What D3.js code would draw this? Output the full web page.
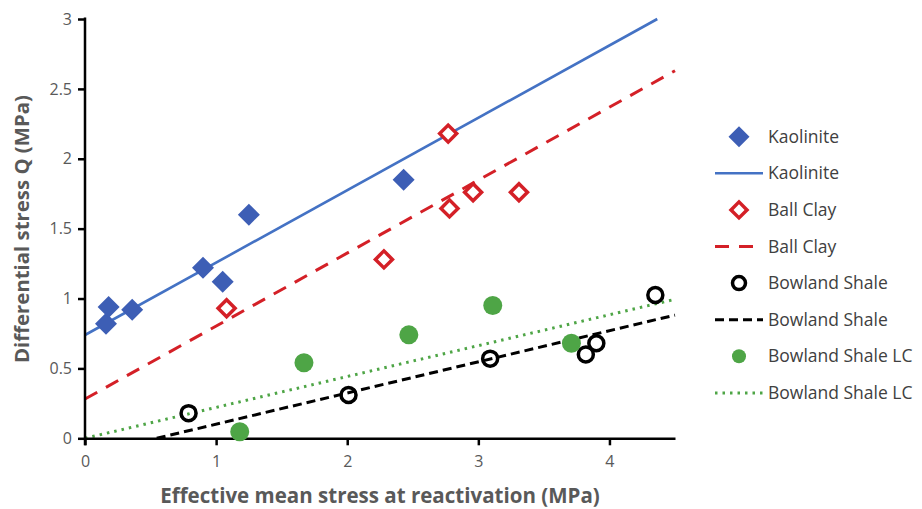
<!DOCTYPE html>
<html>
<head>
<meta charset="utf-8">
<script src="https://cdn.jsdelivr.net/npm/d3@7"></script>
<style>
  body { margin: 0; background: #fff; }
  text { font-family: "Open Sans", sans-serif; }
</style>
</head>
<body>
<div id="chart"></div>
<script>
var w = 922;
var h = 509;

// measured points (MPa)
var kaoliniteX = [0.16, 0.18, 0.36, 0.90, 1.05, 1.25, 2.43];
var kaoliniteY = [0.82, 0.94, 0.92, 1.22, 1.12, 1.60, 1.85];
var ballClayX = [1.08, 2.28, 2.77, 2.78, 2.96, 3.31];
var ballClayY = [0.93, 1.28, 2.18, 1.645, 1.76, 1.76];
var bowlandX = [0.79, 2.01, 3.09, 3.82, 3.90, 4.35];
var bowlandY = [0.18, 0.31, 0.57, 0.60, 0.68, 1.025];
var bowlandLCX = [1.18, 1.67, 2.47, 3.11, 3.71];
var bowlandLCY = [0.047, 0.54, 0.74, 0.95, 0.68];

// linear trendlines, Q = slope * p + intercept
var trendNames = ["Kaolinite", "Ball Clay", "Bowland Shale", "Bowland Shale LC"];
var trendSlopes = [0.518, 0.522, 0.223, 0.221];
var trendIntercepts = [0.739, 0.281, -0.122, 0];

var xTicks = [0, 1, 2, 3, 4];
var yTicks = [0, 0.5, 1, 1.5, 2, 2.5, 3];

var svg = d3.select("#chart")
            .append("svg")
            .attr("width", w)
            .attr("height", h);

var xScale = d3.scaleLinear().domain([0, 4.5]).range([85, 675]);
var yScale = d3.scaleLinear().domain([0, 3]).range([438.3, 19]);

function zip(xs, ys) {
    return xs.map(function(x, i) { return { x: x, y: ys[i] }; });
}

// trend lines first (under markers)
var lineStyles = [
    { color: "#4472C4", width: 2.6, dash: null },
    { color: "#D42027", width: 3, dash: "14,10" },
    { color: "#000000", width: 3, dash: "9,5" },
    { color: "#4EA546", width: 3, dash: "2.5,5" }
];

trendNames.forEach(function(name, i) {
    var m = trendSlopes[i], b = trendIntercepts[i];
    var x0 = Math.max(0, -b / m);
    var x1 = Math.min(4.5, (3 - b) / m);
    var st = lineStyles[i];
    svg.append("line")
        .attr("x1", xScale(x0)).attr("y1", yScale(m * x0 + b))
        .attr("x2", xScale(x1)).attr("y2", yScale(m * x1 + b))
        .attr("stroke", st.color)
        .attr("stroke-width", st.width)
        .attr("stroke-dasharray", st.dash);
});

// axes
var yAxis = d3.axisLeft(yScale).tickValues(yTicks).tickSize(7).tickSizeOuter(0).tickPadding(6)
    .tickFormat(function(d) { return d; });
var xAxis = d3.axisBottom(xScale).tickValues(xTicks).tickSize(7).tickSizeOuter(0).tickPadding(10)
    .tickFormat(function(d) { return d; });

var gy = svg.append("g").attr("transform", "translate(85,0)").call(yAxis);
var gx = svg.append("g").attr("transform", "translate(0,438.3)").call(xAxis);
[gx, gy].forEach(function(g) {
    g.select(".domain").attr("stroke", "#000").attr("stroke-width", 2.5);
    g.selectAll(".tick line").attr("stroke", "#000").attr("stroke-width", 2.5);
    g.selectAll(".tick text")
        .attr("fill", "#595959")
        .style("font-size", "16px")
        .style("font-family", "'Open Sans', sans-serif");
});
gy.select(".domain").attr("d", "M0,445.3V17.5");

// markers
var diamond = d3.symbol().type(d3.symbolSquare);
function drawDiamond(g, cx, cy, half, fill, stroke, sw) {
    var s = half * Math.SQRT1_2;
    g.append("rect")
        .attr("x", -s).attr("y", -s).attr("width", 2 * s).attr("height", 2 * s)
        .attr("transform", "translate(" + cx + "," + cy + ") rotate(45)")
        .attr("fill", fill).attr("stroke", stroke).attr("stroke-width", sw);
}

var markers = svg.append("g");
zip(kaoliniteX, kaoliniteY).forEach(function(d) {
    drawDiamond(markers, xScale(d.x), yScale(d.y), 11, "#3D5EB5", "none", 0);
});
zip(ballClayX, ballClayY).forEach(function(d) {
    drawDiamond(markers, xScale(d.x), yScale(d.y), 8.5, "#fff", "#D42027", 3.5);
});
markers.selectAll("circle.bs")
    .data(zip(bowlandX, bowlandY))
    .enter().append("circle")
    .attr("class", "bs")
    .attr("cx", function(d) { return xScale(d.x); })
    .attr("cy", function(d) { return yScale(d.y); })
    .attr("r", 7.5)
    .attr("fill", "none")
    .attr("stroke", "#000")
    .attr("stroke-width", 3.5);
markers.selectAll("circle.lc")
    .data(zip(bowlandLCX, bowlandLCY))
    .enter().append("circle")
    .attr("class", "lc")
    .attr("cx", function(d) { return xScale(d.x); })
    .attr("cy", function(d) { return yScale(d.y); })
    .attr("r", 9.5)
    .attr("fill", "#4EA546");

// axis titles
function fitWidth(t, target) {
    var len = t.node().getComputedTextLength();
    var fs = parseFloat(t.style("font-size"));
    t.style("font-size", (fs * target / len) + "px");
}
var xt = svg.append("text")
    .attr("x", 380).attr("y", 503)
    .attr("text-anchor", "middle")
    .attr("fill", "#595959")
    .style("font-weight", "bold")
    .style("font-size", "18px")
    .text("Effective mean stress at reactivation (MPa)");
fitWidth(xt, 440);

var yt = svg.append("text")
    .attr("transform", "translate(29,229) rotate(-90)")
    .attr("text-anchor", "middle")
    .attr("fill", "#595959")
    .style("font-weight", "bold")
    .style("font-size", "18px")
    .text("Differential stress Q (MPa)");
fitWidth(yt, 268);

// legend
var legendY0 = 136.7, legendStep = 36.6;
var legendItems = [
    { label: "Kaolinite", kind: "diamond" },
    { label: "Kaolinite", kind: "line", style: 0 },
    { label: "Ball Clay", kind: "opendiamond" },
    { label: "Ball Clay", kind: "line", style: 1 },
    { label: "Bowland Shale", kind: "opencircle" },
    { label: "Bowland Shale", kind: "line", style: 2 },
    { label: "Bowland Shale LC", kind: "dot" },
    { label: "Bowland Shale LC", kind: "line", style: 3 }
];
var legend = svg.append("g");
legendItems.forEach(function(item, i) {
    var cy = legendY0 + i * legendStep;
    if (item.kind === "diamond") drawDiamond(legend, 739, cy, 10.5, "#3D5EB5", "none", 0);
    if (item.kind === "opendiamond") drawDiamond(legend, 739, cy, 8, "#fff", "#D42027", 3.5);
    if (item.kind === "opencircle") legend.append("circle").attr("cx", 739).attr("cy", cy).attr("r", 6.5)
        .attr("fill", "none").attr("stroke", "#000").attr("stroke-width", 3.5);
    if (item.kind === "dot") legend.append("circle").attr("cx", 739).attr("cy", cy).attr("r", 7)
        .attr("fill", "#4EA546");
    if (item.kind === "line") {
        var st = lineStyles[item.style];
        legend.append("line")
            .attr("x1", 715).attr("x2", 763).attr("y1", cy).attr("y2", cy)
            .attr("stroke", st.color).attr("stroke-width", st.width)
            .attr("stroke-dasharray", item.style === 1 ? "14,10" : st.dash);
    }
    legend.append("text")
        .attr("x", 768).attr("y", cy)
        .attr("dy", "0.35em")
        .attr("fill", "#404040")
        .style("font-size", "17.5px")
        .text(item.label);
});
</script>
</body>
</html>
